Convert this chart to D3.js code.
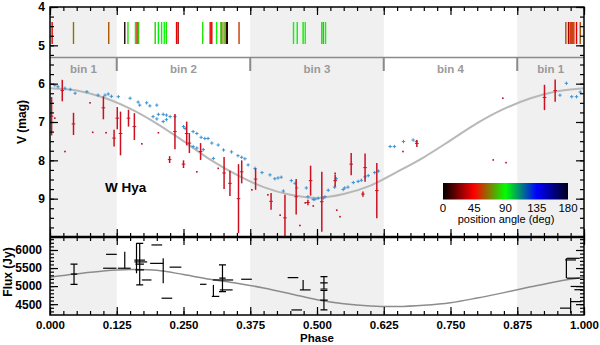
<!DOCTYPE html>
<html>
<head>
<meta charset="utf-8">
<script src="https://cdn.jsdelivr.net/npm/d3@7"></script>
<style>
  body { margin: 0; background: #fff; }
  svg { display: block; }
  text { font-family: "Liberation Sans", Arial, sans-serif; }
</style>
</head>
<body>
<svg id="grafico"></svg>
<script>
const ancho = 600;
const alto = 345;

// fases de los bins
const bins = [
  { nombre: "bin 1", ini: 0.0, fin: 0.125, gris: true },
  { nombre: "bin 2", ini: 0.125, fin: 0.375, gris: false },
  { nombre: "bin 3", ini: 0.375, fin: 0.625, gris: true },
  { nombre: "bin 4", ini: 0.625, fin: 0.875, gris: false },
  { nombre: "bin 1", ini: 0.875, fin: 1.0, gris: true }
];

// modelo de curva de luz V (fase, mag)
const modeloFase = [0, 0.05, 0.1, 0.15, 0.2, 0.25, 0.3, 0.35, 0.4, 0.45, 0.5, 0.55, 0.6, 0.65, 0.7, 0.75, 0.8, 0.85, 0.9, 0.95, 1.0];
const modeloMag = [6.12, 6.18, 6.36, 6.65, 7.04, 7.5, 7.98, 8.38, 8.7, 8.9, 8.98, 8.88, 8.66, 8.3, 7.92, 7.48, 7.03, 6.66, 6.38, 6.2, 6.12];
// modelo de flujo (Jy) en las mismas fases
const modeloFlux = [5245, 5340, 5420, 5460, 5440, 5320, 5190, 5080, 4950, 4790, 4620, 4510, 4450, 4435, 4470, 4540, 4670, 4820, 4980, 5130, 5245];

// fotometría con barras de error [fase, mag, error]
const barrasRojas = [
  [0.003, 6.85, 0.5], [0.023, 6.18, 0.28], [0.044, 7.05, 0.29], [0.100, 6.63, 0.3],
  [0.120, 7.42, 0.22], [0.126, 6.9, 0.29], [0.132, 7.3, 0.57], [0.147, 6.9, 0.22],
  [0.158, 7.12, 0.35], [0.234, 7.25, 0.46], [0.256, 7.3, 0.31], [0.261, 7.55, 0.26],
  [0.282, 7.77, 0.22], [0.326, 8.33, 0.42], [0.224, 7.98, 0.09], [0.250, 8.1, 0.1],
  [0.337, 8.6, 0.33], [0.353, 9.0, 0.9], [0.359, 8.3, 0.3], [0.385, 8.49, 0.28],
  [0.414, 9.07, 0.22], [0.440, 9.5, 0.6], [0.461, 8.95, 0.46], [0.488, 8.53, 0.39],
  [0.483, 9.1, 0.07], [0.509, 9.08, 0.78], [0.534, 8.53, 0.16], [0.564, 8.1, 0.29],
  [0.590, 8.19, 0.37], [0.586, 8.88, 0.07], [0.612, 8.79, 0.72], [0.687, 7.56, 0.09],
  [0.926, 6.36, 0.33], [0.946, 6.18, 0.29]
];

// puntos sueltos [fase, mag]
const puntosRojos = [
  [0.028, 7.77], [0.080, 7.27], [0.075, 6.5], [0.105, 7.28], [0.203, 7.28], [0.172, 7.57],
  [0.275, 8.3], [0.315, 8.21], [0.378, 8.77], [0.408, 8.9], [0.431, 9.43], [0.478, 9.11],
  [0.468, 9.7], [0.493, 9.19], [0.537, 9.3], [0.543, 9.47], [0.534, 8.34], [0.661, 7.77],
  [0.830, 7.99], [0.854, 8.06], [0.848, 6.38], [0.009, 6.9]
];

// puntos azules [fase, mag]
const puntosAzules = [
  [0.009, 6.04], [0.015, 6.08], [0.028, 6.12], [0.038, 6.15], [0.047, 6.25], [0.069, 6.21],
  [0.090, 6.3], [0.103, 6.3], [0.109, 6.27], [0.115, 6.33], [0.128, 6.34], [0.150, 6.38],
  [0.165, 6.48], [0.168, 6.56], [0.181, 6.5], [0.187, 6.58], [0.200, 6.56], [0.203, 6.8],
  [0.212, 6.8], [0.218, 6.82], [0.225, 6.86], [0.234, 6.86], [0.250, 7.12], [0.253, 7.17],
  [0.268, 7.25], [0.275, 7.3], [0.290, 7.43], [0.296, 7.43], [0.303, 7.55], [0.315, 7.6],
  [0.325, 7.73], [0.193, 6.86], [0.200, 6.92], [0.212, 6.99], [0.218, 6.94], [0.268, 7.64],
  [0.275, 7.68], [0.287, 7.72], [0.306, 7.95], [0.283, 7.4], [0.34, 7.78], [0.352, 7.88],
  [0.359, 7.92], [0.365, 7.96], [0.371, 8.12], [0.384, 8.21], [0.397, 8.32], [0.412, 8.38],
  [0.421, 8.48], [0.427, 8.46], [0.433, 8.44], [0.437, 8.8], [0.452, 8.53], [0.459, 8.6],
  [0.462, 8.72], [0.480, 8.72], [0.483, 8.95], [0.493, 9.02], [0.496, 9.02], [0.502, 8.99],
  [0.512, 8.98], [0.515, 8.95], [0.521, 8.78], [0.533, 8.7], [0.536, 8.48], [0.549, 8.76],
  [0.552, 8.72], [0.558, 8.7], [0.568, 8.58], [0.577, 8.55], [0.583, 8.52], [0.590, 8.43],
  [0.596, 8.4], [0.608, 8.32], [0.615, 8.28], [0.637, 7.64], [0.645, 7.64], [0.662, 7.51],
  [0.680, 7.47], [0.686, 7.51], [0.955, 6.3], [0.967, 5.99], [0.977, 6.34], [0.986, 6.34],
  [0.993, 6.22]
];

// marcas de ángulo de posición [fase, ángulo]
const marcasAngulo = [
  [0.004, 40], [0.044, 65], [0.110, 60], [0.140, 5], [0.146, 85], [0.160, 88], [0.163, 40],
  [0.166, 80], [0.197, 80], [0.203, 92], [0.209, 88], [0.214, 90], [0.218, 85], [0.237, 42],
  [0.240, 30], [0.286, 85], [0.300, 42], [0.303, 38], [0.312, 88], [0.320, 80], [0.322, 68],
  [0.326, 75], [0.330, 8], [0.332, 4], [0.354, 55], [0.456, 88], [0.463, 92], [0.474, 85],
  [0.478, 90], [0.509, 95], [0.512, 80], [0.516, 90], [0.966, 58], [0.971, 30], [0.974, 55],
  [0.976, 52], [0.978, 56], [0.981, 50], [0.986, 40], [0.993, 60]
];

// flujo [fase, flujo, dfase, dflujo, remate]
const puntosFlux = [
  [0.045, 5330, 0.006, 280, 1], [0.115, 5880, 0.01, 0, 0], [0.112, 5495, 0.0125, 0, 0],
  [0.139, 5495, 0.012, 0, 0], [0.140, 5725, 0, 230, 0], [0.168, 5610, 0.008, 575, 1],
  [0.168, 5720, 0.01, 0, 0], [0.170, 5670, 0.012, 0, 0], [0.168, 5450, 0.008, 0, 0],
  [0.162, 5770, 0, 415, 0], [0.212, 5425, 0, 345, 0], [0.200, 5630, 0.0125, 0, 0],
  [0.181, 5170, 0.009, 0, 0], [0.200, 6140, 0.01, 0, 0], [0.219, 4665, 0.01, 0, 0],
  [0.235, 5525, 0.011, 0, 0], [0.287, 5050, 0.006, 0, 0], [0.306, 4875, 0, 160, 0],
  [0.310, 4715, 0.007, 0, 0], [0.323, 5220, 0.006, 370, 1], [0.324, 5170, 0.019, 0, 0],
  [0.330, 4895, 0.012, 0, 0], [0.368, 5190, 0.01, 0, 0], [0.455, 5235, 0.01, 0, 0],
  [0.474, 5030, 0, 140, 0], [0.478, 4895, 0.01, 0, 0], [0.462, 4340, 0.01, 0, 0],
  [0.513, 5090, 0.007, 170, 1], [0.513, 4610, 0.007, 270, 1], [0.980, 5770, 0.012, 0, 0],
  [0.975, 5725, 0.01, 0, 0], [0.980, 5220, 0.012, 0, 0], [0.985, 4990, 0.01, 0, 0],
  [0.990, 4900, 0.008, 0, 0], [0.965, 4390, 0.01, 0, 0], [0.967, 5495, 0, 275, 0],
  [0.975, 4460, 0, 210, 0], [0.985, 4570, 0.01, 0, 0]
];

// ejes
const ticksFase = [0, 0.125, 0.25, 0.375, 0.5, 0.625, 0.75, 0.875, 1.0];
const ticksMag = [4, 5, 6, 7, 8, 9];
const ticksFlux = [4500, 5000, 5500, 6000];
const barraAngulos = [0, 45, 90, 135, 180];
const barraColores = ["#000000", "#ff0000", "#00ff00", "#0000ff", "#00001a"];

const izq = 50, der = 584, arriba = 7, corte = 237, abajo = 315;

const svg = d3.select("#grafico").attr("width", ancho).attr("height", alto);

const x = d3.scaleLinear().domain([0, 1]).range([izq, der]);
const yMag = d3.scaleLinear().domain([4, 10]).range([arriba, corte]);
const yFlux = d3.scaleLinear().domain([4200, 6360]).range([abajo, corte]);
const colorAngulo = d3.scaleLinear().domain(barraAngulos).range(barraColores);

const defs = svg.append("defs");
defs.append("clipPath").attr("id", "clipSup").append("rect")
  .attr("x", izq).attr("y", arriba).attr("width", der - izq).attr("height", corte - arriba);
defs.append("clipPath").attr("id", "clipInf").append("rect")
  .attr("x", izq).attr("y", corte).attr("width", der - izq).attr("height", abajo - corte);

// sombreado de bins
svg.append("g").selectAll("rect").data(bins.filter(b => b.gris)).join("rect")
  .attr("x", d => x(d.ini)).attr("width", d => x(d.fin) - x(d.ini))
  .attr("y", arriba).attr("height", abajo - arriba)
  .attr("fill", "#f0f0f0");

// separador de bins
const gBins = svg.append("g");
gBins.append("line")
  .attr("x1", izq).attr("x2", der).attr("y1", 57.5).attr("y2", 57.5)
  .attr("stroke", "#8a8a8a").attr("stroke-width", 1.6);
gBins.selectAll("line.div").data(bins.slice(1)).join("line")
  .attr("class", "div")
  .attr("x1", d => x(d.ini)).attr("x2", d => x(d.ini))
  .attr("y1", 57.5).attr("y2", 71)
  .attr("stroke", "#8a8a8a").attr("stroke-width", 2);
gBins.selectAll("text").data(bins).join("text")
  .attr("x", d => x((d.ini + d.fin) / 2)).attr("y", 73)
  .attr("text-anchor", "middle")
  .attr("font-size", 11.5).attr("font-weight", 700).attr("fill", "#9a9a9a")
  .text(d => d.nombre);

// marcas de ángulo
svg.append("g").selectAll("line").data(marcasAngulo).join("line")
  .attr("x1", d => x(d[0])).attr("x2", d => x(d[0]))
  .attr("y1", 22).attr("y2", 44)
  .attr("stroke", d => colorAngulo(d[1])).attr("stroke-width", 1.4);

// panel superior
const gSup = svg.append("g").attr("clip-path", "url(#clipSup)");
const lineaMag = d3.line().x(d => x(d[0])).y(d => yMag(d[1])).curve(d3.curveCatmullRom);
gSup.append("path")
  .datum(modeloFase.map((f, i) => [f, modeloMag[i]]))
  .attr("fill", "none").attr("stroke", "#b8b8b8").attr("stroke-width", 2)
  .attr("d", lineaMag);

gSup.append("g").selectAll("path").data(puntosAzules).join("path")
  .attr("d", d => {
    const px = x(d[0]), py = yMag(d[1]);
    return `M${px - 1.7},${py}H${px + 1.7}M${px},${py - 1.7}V${py + 1.7}`;
  })
  .attr("stroke", "#3a93d4").attr("stroke-width", 1);

gSup.append("g").selectAll("rect").data(puntosRojos).join("rect")
  .attr("x", d => x(d[0]) - 0.8).attr("y", d => yMag(d[1]) - 0.8)
  .attr("width", 1.6).attr("height", 1.6)
  .attr("fill", "#b01020");

const gBarras = gSup.append("g").attr("stroke", "#cc1020");
gBarras.selectAll("line.v").data(barrasRojas).join("line")
  .attr("class", "v")
  .attr("x1", d => x(d[0])).attr("x2", d => x(d[0]))
  .attr("y1", d => yMag(d[1] - d[2])).attr("y2", d => yMag(d[1] + d[2]))
  .attr("stroke-width", 1.5);
gBarras.selectAll("line.h").data(barrasRojas).join("line")
  .attr("class", "h")
  .attr("x1", d => x(d[0]) - 1.8).attr("x2", d => x(d[0]) + 1.8)
  .attr("y1", d => yMag(d[1])).attr("y2", d => yMag(d[1]))
  .attr("stroke-width", 1);

svg.append("text")
  .attr("x", 105).attr("y", 191.5)
  .attr("font-size", 13.5).attr("font-weight", 700)
  .text("W Hya");

// barra de color
const grad = defs.append("linearGradient").attr("id", "gradAngulo");
grad.selectAll("stop").data(barraAngulos).join("stop")
  .attr("offset", d => `${d / 180 * 100}%`)
  .attr("stop-color", d => colorAngulo(d));
const xBarra = d3.scaleLinear().domain([0, 180]).range([443, 568]);
svg.append("rect")
  .attr("x", 443).attr("y", 183).attr("width", 125).attr("height", 16.5)
  .attr("fill", "url(#gradAngulo)");
svg.append("g").selectAll("text").data(barraAngulos).join("text")
  .attr("x", d => xBarra(d)).attr("y", 212)
  .attr("text-anchor", "middle").attr("font-size", 11.5)
  .text(d => d);
svg.append("text")
  .attr("x", 506).attr("y", 223)
  .attr("text-anchor", "middle").attr("font-size", 11)
  .text("position angle (deg)");

// panel inferior
const gInf = svg.append("g").attr("clip-path", "url(#clipInf)");
const lineaFlux = d3.line().x(d => x(d[0])).y(d => yFlux(d[1])).curve(d3.curveCatmullRom);
gInf.append("path")
  .datum(modeloFase.map((f, i) => [f, modeloFlux[i]]))
  .attr("fill", "none").attr("stroke", "#8c8c8c").attr("stroke-width", 1.5)
  .attr("d", lineaFlux);

const gFlux = gInf.append("g").attr("stroke", "#000").attr("stroke-width", 1.2).attr("fill", "none");
gFlux.selectAll("path").data(puntosFlux).join("path")
  .attr("d", d => {
    const px = x(d[0]), py = yFlux(d[1]);
    let s = "";
    if (d[2] > 0) s += `M${x(d[0] - d[2])},${py}H${x(d[0] + d[2])}`;
    if (d[3] > 0) {
      const y1 = yFlux(d[1] + d[3]), y2 = yFlux(d[1] - d[3]);
      s += `M${px},${y1}V${y2}`;
      if (d[4]) s += `M${px - 3.5},${y1}H${px + 3.5}M${px - 3.5},${y2}H${px + 3.5}`;
    }
    return s;
  });

// ejes
const ticksFaseMenor = d3.range(0, 1.0001, 0.025);
const ticksMagMenor = d3.range(4, 10.001, 0.25);
const ticksFluxMenor = d3.range(4300, 6301, 100);

function eje(gen, trans, valores, largo, formato) {
  const g = svg.append("g").attr("transform", trans)
    .call(gen.tickValues(valores).tickSize(largo).tickPadding(formato ? 6 : 0).tickFormat(formato || (() => "")));
  g.select(".domain").remove();
  g.selectAll("line").attr("stroke", "#000").attr("stroke-width", 1.2);
  g.selectAll("text").attr("font-size", 12).attr("font-weight", 700).attr("fill", "#000")
    .attr("font-family", "'Liberation Sans', Arial, sans-serif");
  return g;
}

// fase: arriba, corte (dos lados), abajo
eje(d3.axisBottom(x), `translate(0,${arriba})`, ticksFaseMenor, 4);
eje(d3.axisBottom(x), `translate(0,${arriba})`, ticksFase, 8);
eje(d3.axisTop(x), `translate(0,${corte})`, ticksFaseMenor, 4);
eje(d3.axisTop(x), `translate(0,${corte})`, ticksFase, 8);
eje(d3.axisBottom(x), `translate(0,${corte})`, ticksFaseMenor, 4);
eje(d3.axisBottom(x), `translate(0,${corte})`, ticksFase, 8);
eje(d3.axisBottom(x), `translate(0,${abajo})`, ticksFaseMenor, -4);
eje(d3.axisBottom(x), `translate(0,${abajo})`, ticksFase, -8, d3.format(".3f"))
  .selectAll("text").attr("dy", "0").attr("y", 14).attr("font-size", 11.5);

// magnitud
eje(d3.axisLeft(yMag), `translate(${izq},0)`, ticksMagMenor, -4);
eje(d3.axisLeft(yMag), `translate(${izq},0)`, ticksMag, -8, d3.format("d"))
  .selectAll("text").attr("x", -5);
eje(d3.axisLeft(yMag), `translate(${der},0)`, ticksMagMenor, 4);
eje(d3.axisLeft(yMag), `translate(${der},0)`, ticksMag, 8);

// flujo
eje(d3.axisLeft(yFlux), `translate(${izq},0)`, ticksFluxMenor, -4);
eje(d3.axisLeft(yFlux), `translate(${izq},0)`, ticksFlux, -8, d3.format("d"))
  .selectAll("text").attr("x", -8);
eje(d3.axisLeft(yFlux), `translate(${der},0)`, ticksFluxMenor, 4);
eje(d3.axisLeft(yFlux), `translate(${der},0)`, ticksFlux, 8);

// marcos
svg.append("rect")
  .attr("x", izq).attr("y", arriba).attr("width", der - izq).attr("height", abajo - arriba)
  .attr("fill", "none").attr("stroke", "#000").attr("stroke-width", 1.5);
svg.append("line")
  .attr("x1", izq).attr("x2", der).attr("y1", corte).attr("y2", corte)
  .attr("stroke", "#000").attr("stroke-width", 2.5);

// títulos de ejes
svg.append("text")
  .attr("transform", "translate(25.5,122) rotate(-90)")
  .attr("text-anchor", "middle").attr("font-size", 12).attr("font-weight", 700)
  .text("V (mag)");
svg.append("text")
  .attr("transform", "translate(11.5,272) rotate(-90)")
  .attr("text-anchor", "middle").attr("font-size", 12).attr("font-weight", 700)
  .text("Flux (Jy)");
svg.append("text")
  .attr("x", 317).attr("y", 342)
  .attr("text-anchor", "middle").attr("font-size", 11.5).attr("font-weight", 700)
  .text("Phase");
</script>
</body>
</html>
